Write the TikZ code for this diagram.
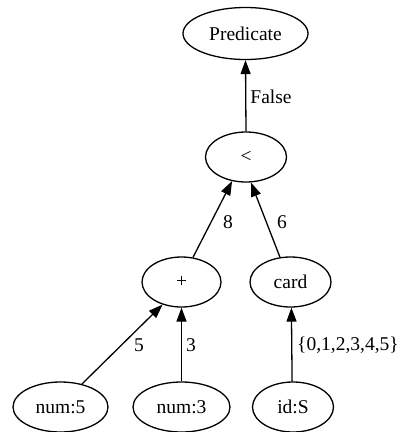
\documentclass[tikz,border=0pt]{standalone}
\usepackage{fontspec}
\setmainfont{Liberation Serif}
\usetikzlibrary{shapes.geometric,arrows.meta}
\begin{document}
\begin{tikzpicture}[x=1pt,y=-1pt,
  every node/.style={font=\fontsize{19.5}{23}\selectfont},
  vert/.style={ellipse,draw,line width=1.3pt,inner sep=0pt,minimum height=50pt},
  lbl/.style={inner sep=0pt},
  link/.style={line width=1.3pt,-{Triangle[length=14pt,width=10pt]}}]
  \useasboundingbox (0,0) rectangle (403,432);
  % operator tree
  \node[vert,minimum width=125pt,minimum height=52pt] (pred) at (245.5,33.5) {Predicate};
  \node[vert,minimum width=81pt] (lt)   at (246,157) {<};
  \node[vert,minimum width=79pt] (plus) at (181.5,282) {+};
  \node[vert,minimum width=81pt] (card) at (290.5,282) {card};
  \node[vert,minimum width=95pt] (n5)   at (60.5,407) {num:5};
  \node[vert,minimum width=97pt] (n3)   at (181.5,407) {num:3};
  \node[vert,minimum width=81pt] (ids)  at (293,407) {id:S};
  % edges carry the evaluated values upward
  \draw[link] (lt.north) -- (pred.south);
  \draw[link] (plus.65) -- (lt.240);
  \draw[link] (card.113) -- (lt.-79);
  \draw[link] (n5.47) -- (plus.230);
  \draw[link] (n3.north) -- (plus.south);
  \draw[link] (ids.92) -- (card.-88);
  % values
  \node[lbl] (vfalse) at (271,97) {False};
  \node[lbl] (v8) at (228,222) {8};
  \node[lbl] (v6) at (282,222) {6};
  \node[lbl] (v5) at (139,345) {5};
  \node[lbl] (v3) at (191,345) {3};
  \node[lbl] (vset) at (348,345) {\{0,1,2,3,4,5\}};
\end{tikzpicture}
\end{document}
